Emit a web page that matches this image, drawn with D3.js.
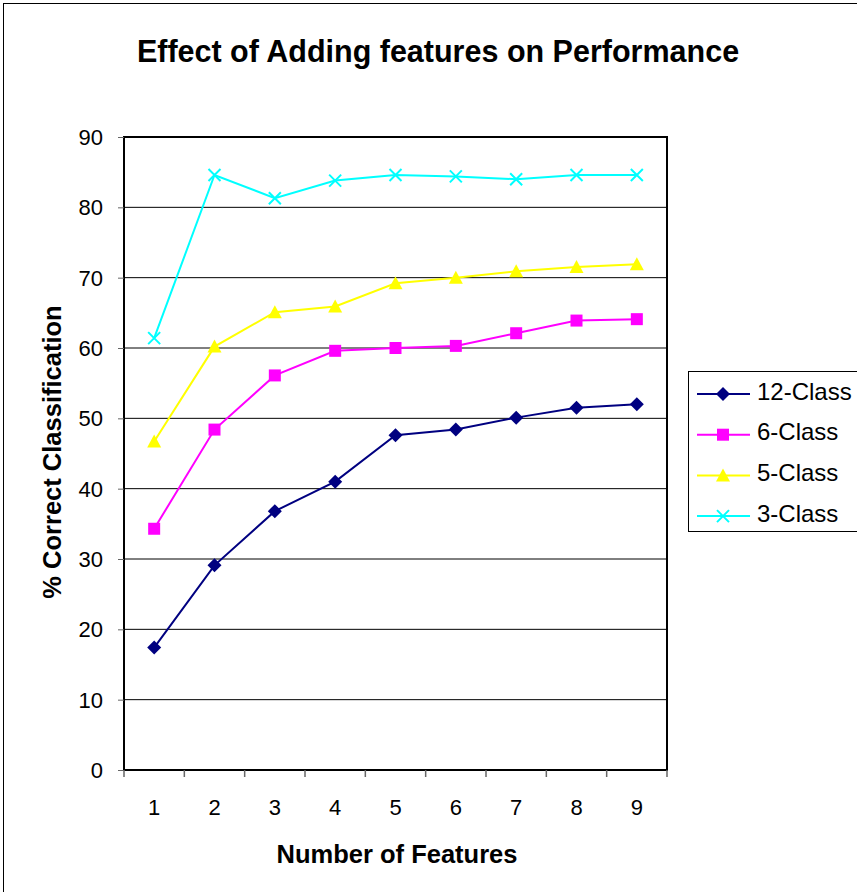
<!DOCTYPE html>
<html>
<head>
<meta charset="utf-8">
<script src="https://cdn.jsdelivr.net/npm/d3@7"></script>
<style>
  body { margin: 0; background: #fff; }
  text { font-family: "Liberation Sans", Arial, sans-serif; }
</style>
</head>
<body>
<svg id="chart" width="857" height="892"></svg>
<script>
// data
let features = [1, 2, 3, 4, 5, 6, 7, 8, 9];
let yTicks = [0, 10, 20, 30, 40, 50, 60, 70, 80, 90];
let seriesNames = ["12-Class", "6-Class", "5-Class", "3-Class"];
let seriesColors = ["#000080", "#FF00FF", "#FFFF00", "#00FFFF"];
let seriesMarkers = ["diamond", "square", "triangle", "cross"];
let class12 = [17.4, 29.1, 36.8, 41.0, 47.6, 48.4, 50.1, 51.5, 52.0];
let class6 = [34.3, 48.4, 56.1, 59.6, 60.0, 60.3, 62.1, 63.9, 64.1];
let class5 = [46.7, 60.2, 65.1, 65.9, 69.2, 70.0, 70.9, 71.5, 71.9];
let class3 = [61.4, 84.6, 81.3, 83.8, 84.6, 84.4, 84.0, 84.6, 84.6];
let seriesValues = [class12, class6, class5, class3];

let svg = d3.select("#chart");
let position = { left: 124, top: 137, right: 667, bottom: 770 };

// outer chart border (right/bottom fall off the page)
svg.append("rect")
    .attr("x", 3.5).attr("y", 3.5)
    .attr("width", 870).attr("height", 900)
    .style("fill", "#fff").style("stroke", "#000").style("stroke-width", 1);

let x = d3.scaleBand()
    .domain(features)
    .range([position.left, position.right]);

let y = d3.scaleLinear()
    .domain([0, 90])
    .range([position.bottom, position.top]);

// gridlines
svg.append("g")
    .selectAll("line")
    .data(yTicks.slice(1))
    .enter()
    .append("line")
      .attr("x1", position.left).attr("x2", position.right)
      .attr("y1", d => y(d)).attr("y2", d => y(d))
      .style("stroke", "#000").style("stroke-width", 1);

// plot frame
svg.append("rect")
    .attr("x", position.left).attr("y", position.top)
    .attr("width", position.right - position.left)
    .attr("height", position.bottom - position.top)
    .style("fill", "none").style("stroke", "#000").style("stroke-width", 2);

// y axis
let yAxis = svg.append("g")
    .attr("transform", "translate(" + position.left + ",0)")
    .call(d3.axisLeft(y).tickValues(yTicks).tickSize(6).tickPadding(15));
yAxis.select(".domain").remove();
yAxis.selectAll("line").style("stroke", "#666");
yAxis.selectAll("text")
    .style("font-size", "22px").style("fill", "#000")
    .attr("dy", "0.34em");

// x axis: ticks at category boundaries, labels at centres
let xAxis = svg.append("g")
    .attr("transform", "translate(0," + position.bottom + ")")
    .call(d3.axisBottom(x).tickSize(0));
xAxis.select(".domain").remove();
xAxis.selectAll("text")
    .attr("y", 45).attr("dy", 0)
    .style("font-size", "22px").style("fill", "#000");

svg.append("g")
    .selectAll("line")
    .data(features.concat([features.length + 1]))
    .enter()
    .append("line")
      .attr("x1", d => d <= features.length ? x(d) : position.right)
      .attr("x2", d => d <= features.length ? x(d) : position.right)
      .attr("y1", position.bottom).attr("y2", position.bottom + 7)
      .style("stroke", "#666").style("stroke-width", 1.5);

// titles
svg.append("text")
    .attr("x", 438).attr("y", 62)
    .attr("text-anchor", "middle")
    .style("font-size", "30.5px").style("font-weight", "bold")
    .text("Effect of Adding features on Performance");

svg.append("text")
    .attr("x", 397).attr("y", 863)
    .attr("text-anchor", "middle")
    .style("font-size", "25.5px").style("font-weight", "bold")
    .text("Number of Features");

svg.append("text")
    .attr("transform", "translate(61,452) rotate(-90)")
    .attr("text-anchor", "middle")
    .style("font-size", "25.5px").style("font-weight", "bold")
    .text("% Correct Classification");

// marker drawing
function drawMarker(g, kind, color) {
    if (kind === "diamond") {
        g.append("path").attr("d", "M0,-7L7,0L0,7L-7,0Z").style("fill", color);
    } else if (kind === "square") {
        g.append("rect").attr("x", -6).attr("y", -6).attr("width", 12).attr("height", 12).style("fill", color);
    } else if (kind === "triangle") {
        g.append("path").attr("d", "M0,-7L7,6L-7,6Z").style("fill", color);
    } else {
        g.append("path").attr("d", "M-6,-6L6,6M-6,6L6,-6")
            .style("stroke", color).style("stroke-width", 2).style("fill", "none");
    }
}

let line = d3.line()
    .x((d, i) => x(features[i]) + x.bandwidth() / 2)
    .y(d => y(d));

seriesValues.forEach(function(vals, s) {
    let g = svg.append("g");
    g.append("path")
        .attr("d", line(vals))
        .style("fill", "none")
        .style("stroke", seriesColors[s])
        .style("stroke-width", 2);
    vals.forEach(function(v, i) {
        let m = g.append("g")
            .attr("transform", "translate(" + (x(features[i]) + x.bandwidth() / 2) + "," + y(v) + ")");
        drawMarker(m, seriesMarkers[s], seriesColors[s]);
    });
});

// legend
let legend = svg.append("g");
legend.append("rect")
    .attr("x", 688.5).attr("y", 371.5)
    .attr("width", 180).attr("height", 160)
    .style("fill", "#fff").style("stroke", "#000").style("stroke-width", 1);

seriesNames.forEach(function(name, s) {
    let ly = 394 + s * 40.7;
    legend.append("line")
        .attr("x1", 697).attr("x2", 750)
        .attr("y1", ly).attr("y2", ly)
        .style("stroke", seriesColors[s]).style("stroke-width", 2);
    let m = legend.append("g").attr("transform", "translate(723," + ly + ")");
    drawMarker(m, seriesMarkers[s], seriesColors[s]);
    legend.append("text")
        .attr("x", 757).attr("y", ly - 3).attr("dy", "0.36em")
        .style("font-size", "24px")
        .text(name);
});
</script>
</body>
</html>
